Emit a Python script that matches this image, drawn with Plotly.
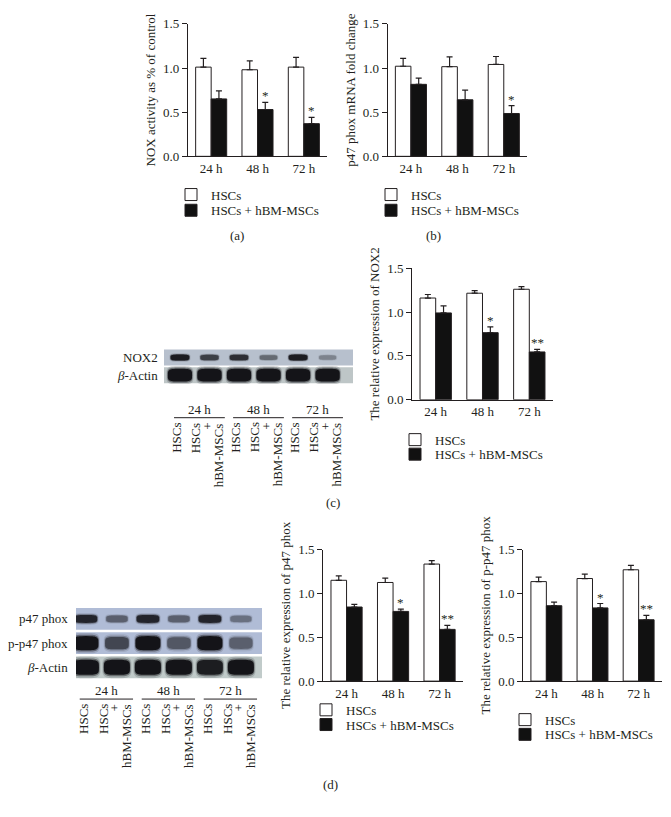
import numpy as np
import plotly.graph_objects as go

W, H = 671, 817
OFF = 8            # default page margin of the html body
FW, FH = W - OFF, H - OFF
FONT = "Liberation Serif"
INK = "#231f20"

times = ["24 h", "48 h", "72 h"]
group_names = ["HSCs", "HSCs + hBM-MSCs"]

# (a) NOX activity
nox_hsc = [1.01, 0.98, 1.01]
nox_hsc_err = [0.10, 0.10, 0.11]
nox_co = [0.65, 0.53, 0.37]
nox_co_err = [0.09, 0.08, 0.07]
nox_stars = ["", "*", "*"]

# (b) p47 phox mRNA
mrna_hsc = [1.02, 1.015, 1.04]
mrna_hsc_err = [0.09, 0.11, 0.09]
mrna_co = [0.815, 0.64, 0.485]
mrna_co_err = [0.07, 0.11, 0.09]
mrna_stars = ["", "", "*"]

# (c) NOX2 protein
nox2_hsc = [1.16, 1.215, 1.26]
nox2_hsc_err = [0.04, 0.03, 0.03]
nox2_co = [0.99, 0.765, 0.545]
nox2_co_err = [0.08, 0.065, 0.03]
nox2_stars = ["", "*", "**"]

# (d) p47 phox protein
p47_hsc = [1.15, 1.125, 1.335]
p47_hsc_err = [0.05, 0.05, 0.04]
p47_co = [0.845, 0.795, 0.59]
p47_co_err = [0.03, 0.025, 0.045]
p47_stars = ["", "*", "**"]

# (d) p-p47 phox protein
pp47_hsc = [1.135, 1.17, 1.27]
pp47_hsc_err = [0.05, 0.05, 0.05]
pp47_co = [0.86, 0.835, 0.70]
pp47_co_err = [0.04, 0.05, 0.05]
pp47_stars = ["", "*", "**"]

# blot band densities, 6 lanes: HSCs / HSCs+hBM-MSCs at 24, 48, 72 h
lane_labels = ["HSCs", "HSCs + hBM-MSCs"] * 3
blot_c_rows = ["NOX2", "<i>β</i>-Actin"]
blot_c_bands = [[0.95, 0.75, 0.85, 0.5, 0.95, 0.35],
                [1.0, 1.0, 1.0, 1.0, 1.0, 1.0]]
blot_d_rows = ["p47 phox", "p-p47 phox", "<i>β</i>-Actin"]
blot_d_bands = [[0.9, 0.55, 0.9, 0.55, 0.9, 0.45],
                [1.0, 0.7, 1.0, 0.6, 1.0, 0.55],
                [1.0, 1.0, 1.0, 1.0, 0.95, 1.0]]


def px(x):
    return (x - OFF) / FW


def py(y):
    return 1 - (y - OFF) / FH


fig = go.Figure()
annotations = []
shapes = []

# data, y title, x domain px, y domain px, legend text x, legend row y's
charts = [
    (nox_hsc, nox_hsc_err, nox_co, nox_co_err, nox_stars, "NOX activity as % of control",
     (188, 327), (17, 152), 209, (191, 207)),
    (mrna_hsc, mrna_hsc_err, mrna_co, mrna_co_err, mrna_stars, "p47 phox mRNA fold change",
     (387.7, 527), (17, 152), 409, (191, 207)),
    (nox2_hsc, nox2_hsc_err, nox2_co, nox2_co_err, nox2_stars, "The relative expression of NOX2",
     (412.3, 552.7), (266, 400), 433, (440.7, 455.5)),
    (p47_hsc, p47_hsc_err, p47_co, p47_co_err, p47_stars, "The relative expression of p47 phox",
     (323.3, 462.8), (552.7, 686.7), 344, (716, 731)),
    (pp47_hsc, pp47_hsc_err, pp47_co, pp47_co_err, pp47_stars, "The relative expression of p-p47 phox",
     (523.3, 661.7), (552.7, 686.7), 543, (726, 741)),
]

layout_axes = {"showlegend": True}
nleg = 1
for i, (hsc, hsc_err, co, co_err, stars, ytitle, xd, yd, leg_x, leg_y) in enumerate(charts, start=1):
    xa, ya = f"x{i}", f"y{i}"
    for j, (vals, errs, fill) in enumerate([(hsc, hsc_err, "white"), (co, co_err, "#111111")]):
        nleg += 1
        lg = f"legend{nleg}"
        fig.add_trace(go.Bar(
            x=times, y=vals, name=group_names[j], xaxis=xa, yaxis=ya, legend=lg,
            showlegend=True,
            marker=dict(color=fill, line=dict(color=INK, width=1)),
            error_y=dict(type="data", array=errs, arrayminus=[0] * 3, symmetric=False,
                         color=INK, thickness=1.2, width=3)))
        layout_axes[lg] = dict(
            x=px(leg_x - 38), y=py(leg_y[j]), xanchor="left", yanchor="middle",
            bgcolor="rgba(0,0,0,0)", font=dict(family=FONT, size=13, color=INK),
            itemwidth=30)
    layout_axes[f"xaxis{i}"] = dict(
        domain=[px(xd[0]), px(xd[1])], anchor=ya, type="category", range=[-0.5, 2.5],
        showline=True, linecolor=INK, linewidth=1.2, ticks="", showgrid=False,
        tickfont=dict(family=FONT, size=13, color=INK), fixedrange=True)
    layout_axes[f"yaxis{i}"] = dict(
        domain=[py(yd[1]), py(yd[0])], anchor=xa, range=[0, 1.5],
        tickvals=[0, 0.5, 1.0, 1.5], tickformat=".1f", ticks="outside", ticklen=5,
        tickwidth=1.2, tickcolor=INK, showline=True, linecolor=INK, linewidth=1.2,
        showgrid=False, zeroline=False,
        tickfont=dict(family=FONT, size=13, color=INK),
        title=dict(text=ytitle, font=dict(family=FONT, size=13, color=INK), standoff=4))
    for k, s in enumerate(stars):
        if s:
            annotations.append(dict(
                x=k + 0.1675, y=co[k] + co_err[k], xref=xa, yref=ya, text=s,
                showarrow=False, yanchor="bottom", yshift=-3,
                font=dict(family=FONT, size=13, color=INK)))


def mix(bg, k):
    dark = (20, 20, 24)
    c = [int(b * (1 - k) + d * k) for b, d in zip(bg, dark)]
    return f"rgb({c[0]},{c[1]},{c[2]})"


def band_path(cx, cy, a, b, n=4.0):
    t = np.linspace(0, 2 * np.pi, 49)
    c, s = np.cos(t), np.sin(t)
    xs = cx + a * np.sign(c) * np.abs(c) ** (2 / n)
    ys = cy + b * np.sign(s) * np.abs(s) ** (2 / n)
    return "M" + " L".join(f"{x:.4f},{y:.4f}" for x, y in zip(xs, ys)) + " Z"


blots = [
    # axis no, row names, bands, x domain px, y domain px, lane range, row bg colours,
    # band size (a, b), row label edge, time label y, group line y, lane label top
    (6, blot_c_rows, blot_c_bands, (164, 353), (348, 384), [-0.54, 5.86],
     [(183, 192, 205), (190, 198, 199)], [(0.32, 0.17), (0.41, 0.36)],
     160, 410, 418.3, 421.5),
    (7, blot_d_rows, blot_d_bands, (76, 262), (611, 685), [-0.32, 5.68],
     [(176, 188, 214), (176, 188, 214), (193, 203, 202)], [(0.37, 0.17), (0.4, 0.29), (0.42, 0.31)],
     69.5, 696.7, 705, 708),
]

# soft edge layers: (x scale, y scale, share of density, opacity)
band_layers = [(1.12, 1.45, 0.5, 0.3), (1.05, 1.2, 0.8, 0.55), (1.0, 1.0, 1.0, 1.0)]

for n, rows, bands, xd, yd, xr, bgs, sizes, lab_x, t_y, line_y, lane_y in blots:
    xa, ya = f"x{n}", f"y{n}"
    layout_axes[f"xaxis{n}"] = dict(domain=[px(xd[0]), px(xd[1])], anchor=ya, range=xr,
                                    visible=False, fixedrange=True)
    layout_axes[f"yaxis{n}"] = dict(domain=[py(yd[1]), py(yd[0])], anchor=xa,
                                    range=[len(rows), 0], visible=False, fixedrange=True)
    for r, name in enumerate(rows):
        bg = bgs[r]
        shapes.append(dict(type="rect", xref=f"{xa} domain", yref=ya, x0=0, x1=1,
                           y0=r + 0.05, y1=r + 0.95, line=dict(width=0),
                           fillcolor=mix(bg, 0), layer="below"))
        amax, bmax = sizes[r]
        for lane, k in enumerate(bands[r]):
            a = amax * (0.85 + 0.15 * k)
            b = bmax * (0.6 + 0.4 * k)
            for sx, sy, share, op in band_layers:
                shapes.append(dict(type="path", xref=xa, yref=ya,
                                   path=band_path(lane, r + 0.5, a * sx, b * sy),
                                   fillcolor=mix(bg, k * share), line=dict(width=0),
                                   opacity=op))
        annotations.append(dict(x=px(lab_x), y=r + 0.5, xref="paper", yref=ya, text=name,
                                xanchor="right", yanchor="middle", showarrow=False,
                                font=dict(family=FONT, size=13, color=INK)))
    for g, t in enumerate(times):
        annotations.append(dict(x=2 * g + 0.65, y=py(t_y), xref=xa, yref="paper", text=t,
                                showarrow=False, yanchor="middle",
                                font=dict(family=FONT, size=13, color=INK)))
        shapes.append(dict(type="line", xref=xa, yref="paper", x0=2 * g - 0.2, x1=2 * g + 1.52,
                           y0=py(line_y), y1=py(line_y), line=dict(color=INK, width=1)))
    for lane, lab in enumerate(lane_labels):
        if "+" in lab:
            parts = [("HSCs", -14), ("+", -2), ("hBM-MSCs", 9)]
        else:
            parts = [(lab, -3)]
        for txt, dx in parts:
            annotations.append(dict(x=lane, y=py(lane_y), xref=xa, yref="paper", text=txt,
                                    xshift=dx, textangle=-90, xanchor="center", yanchor="top",
                                    showarrow=False,
                                    font=dict(family=FONT, size=13, color=INK)))

for lab, x, y in [("(a)", 237, 233), ("(b)", 433, 233), ("(c)", 333, 505), ("(d)", 330, 792)]:
    annotations.append(dict(x=px(x), y=py(y), xref="paper", yref="paper", text=lab,
                            showarrow=False, yanchor="middle",
                            font=dict(family=FONT, size=13, color=INK)))

fig.update_layout(
    width=FW, height=FH, margin=dict(l=0, r=0, t=0, b=0),
    paper_bgcolor="white", plot_bgcolor="white",
    barmode="group", bargap=0.33, bargroupgap=0,
    font=dict(family=FONT, size=13, color=INK),
    annotations=annotations, shapes=shapes,
    **layout_axes)

fig.write_html("out.html")
